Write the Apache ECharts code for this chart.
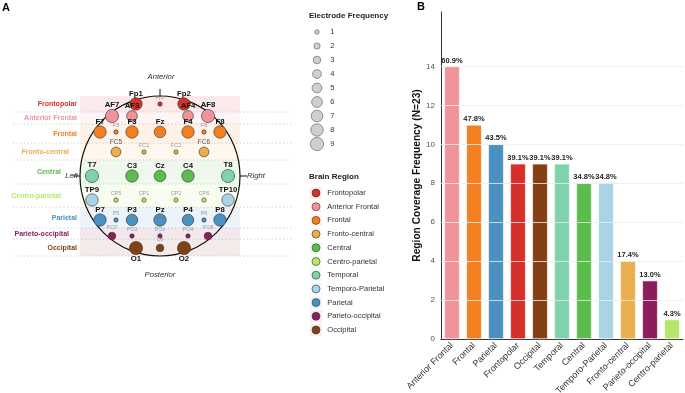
<!DOCTYPE html>
<html>
<head>
<meta charset="utf-8">
<script src="https://cdn.jsdelivr.net/npm/echarts@6/dist/echarts.min.js"></script>
<style>
html, body { margin: 0; padding: 0; background: #fff; }
#chart { width: 685px; height: 393px; }
</style>
</head>
<body>
<div id="chart"></div>
<script>
// Regions and their colours
const regionNames = ['Frontopolar', 'Anterior Frontal', 'Frontal', 'Fronto-central', 'Central', 'Centro-parietal',
    'Temporal', 'Temporo-Parietal', 'Parietal', 'Parieto-occipital', 'Occipital'];
const regionColors = ['#d7302a', '#f0949b', '#f47f22', '#ebae4e', '#5cbd4e', '#b6e76a',
    '#7fd3ac', '#a9d4e6', '#4a90c1', '#8c1c5b', '#843f15'];

// Electrodes: position on the head (radius 1), frequency, region index
const electrodeNames = ['Fp1', 'Fpz', 'Fp2',
    'AF7', 'AF3', 'AF4', 'AF8',
    'F7', 'F5', 'F3', 'Fz', 'F4', 'F6', 'F8',
    'FC5', 'FC1', 'FC2', 'FC6',
    'T7', 'C3', 'Cz', 'C4', 'T8',
    'TP9', 'CP5', 'CP1', 'CP2', 'CP6', 'TP10',
    'P7', 'P5', 'P3', 'Pz', 'P4', 'P6', 'P8',
    'PO7', 'PO3', 'POz', 'PO4', 'PO8',
    'O1', 'Oz', 'O2'];
const electrodeX = [-0.3, 0, 0.3,
    -0.6, -0.35, 0.35, 0.6,
    -0.75, -0.55, -0.35, 0, 0.35, 0.55, 0.75,
    -0.55, -0.2, 0.2, 0.55,
    -0.85, -0.35, 0, 0.35, 0.85,
    -0.85, -0.55, -0.2, 0.2, 0.55, 0.85,
    -0.75, -0.55, -0.35, 0, 0.35, 0.55, 0.75,
    -0.6, -0.35, 0, 0.35, 0.6,
    -0.3, 0, 0.3];
const electrodeY = [0.9, 0.9, 0.9,
    0.75, 0.75, 0.75, 0.75,
    0.55, 0.55, 0.55, 0.55, 0.55, 0.55, 0.55,
    0.3, 0.3, 0.3, 0.3,
    0, 0, 0, 0, 0,
    -0.3, -0.3, -0.3, -0.3, -0.3, -0.3,
    -0.55, -0.55, -0.55, -0.55, -0.55, -0.55, -0.55,
    -0.75, -0.75, -0.75, -0.75, -0.75,
    -0.9, -0.9, -0.9];
const electrodeFreq = [8, 1, 8,
    9, 6, 6, 9,
    8, 1, 8, 7, 8, 1, 8,
    5, 1, 1, 5,
    9, 8, 7, 8, 9,
    8, 1, 1, 1, 1, 8,
    8, 1, 7, 8, 7, 1, 8,
    3, 1, 1, 1, 3,
    9, 3, 9];
const electrodeRegion = [0, 0, 0,
    1, 1, 1, 1,
    2, 2, 2, 2, 2, 2, 2,
    3, 3, 3, 3,
    6, 4, 4, 4, 6,
    7, 5, 5, 5, 5, 7,
    8, 8, 8, 8, 8, 8, 8,
    9, 9, 9, 9, 9,
    10, 10, 10];

// Horizontal region bands on the head
const bandRegion = [0, 1, 2, 3, 4, 5, 8, 9, 10];
const bandTop = [1.0, 0.8, 0.65, 0.41, 0.2, -0.1, -0.39, -0.65, -0.79];
const bandBottom = [0.8, 0.65, 0.41, 0.2, -0.1, -0.39, -0.65, -0.79, -1.0];

// Size legend
const freqLevels = [1, 2, 3, 4, 5, 6, 7, 8, 9];

// Panel B
const barCategories = ['Anterior Frontal', 'Frontal', 'Parietal', 'Frontopolar', 'Occipital', 'Temporal',
    'Central', 'Temporo-Parietal', 'Fronto-central', 'Parieto-occipital', 'Centro-parietal'];
const barCounts = [14, 11, 10, 9, 9, 9, 8, 8, 4, 3, 1];
const totalStudies = 23;
const yTicks = [2, 4, 6, 8, 10, 12, 14];

const FONT = 'Liberation Sans';
// how far each band label is pulled left of the head (staggered around "Left")
const bandLabelGap = [3, 3, 3, 11, 19, 19, 3, 11, 3];

function sizeOf(f) {
    return 4.4 * Math.sqrt(f);
}

function tint(hex, a) {
    const n = parseInt(hex.slice(1), 16);
    return 'rgba(' + (n >> 16) + ',' + ((n >> 8) & 255) + ',' + (n & 255) + ',' + a + ')';
}

const electrodeData = electrodeNames.map((name, i) => {
    const f = electrodeFreq[i];
    const big = f >= 6;
    const mid = f >= 4 && f < 6;
    const below = name === 'O1' || name === 'O2';
    return {
        name: name,
        value: [electrodeX[i], electrodeY[i], f],
        symbolSize: sizeOf(f),
        itemStyle: { color: regionColors[electrodeRegion[i]] },
        label: {
            show: true,
            position: below ? 'bottom' : 'top',
            distance: big ? 0 : 1.5,
            fontSize: big ? 7.8 : (mid ? 6.5 : 5.5),
            fontWeight: big ? 'bold' : 'normal',
            color: big ? '#111' : (mid ? '#555' : '#9a9a9a'),
            formatter: name
        }
    };
});

const bandData = bandRegion.map((r, i) => [bandTop[i], bandBottom[i], r, bandLabelGap[i]]);

function renderBand(params, api) {
    const r = api.value(2);
    const p1 = api.coord([-1, api.value(0)]);
    const p2 = api.coord([1, api.value(1)]);
    return {
        type: 'group',
        children: [
            {
                type: 'rect',
                shape: { x: p1[0], y: p1[1], width: p2[0] - p1[0], height: p2[1] - p1[1] },
                style: { fill: tint(regionColors[r], 0.1) }
            },
            {
                type: 'line',
                shape: { x1: 13, y1: p2[1], x2: 293, y2: p2[1] },
                style: { stroke: '#c4c4c4', lineWidth: 0.8, lineDash: [1.2, 2.4] }
            },
            {
                type: 'text',
                style: {
                    x: p1[0] - api.value(3), y: (p1[1] + p2[1]) / 2,
                    text: regionNames[r], align: 'right', verticalAlign: 'middle',
                    fill: regionColors[r], font: 'bold 7px ' + FONT
                }
            }
        ]
    };
}

function renderHead(params, api) {
    const c = api.coord([0, 0]);
    const R = api.size([1, 1])[0];
    const italic = 'italic 7.7px ' + FONT;
    return {
        type: 'group',
        children: [
            { type: 'circle', shape: { cx: c[0], cy: c[1], r: R }, style: { fill: 'none', stroke: '#111', lineWidth: 1.2 } },
            { type: 'line', shape: { x1: c[0], y1: c[1] - R - 7, x2: c[0], y2: c[1] - R + 1 }, style: { stroke: '#111', lineWidth: 1 } },
            { type: 'line', shape: { x1: c[0] - R - 7, y1: c[1], x2: c[0] - R, y2: c[1] }, style: { stroke: '#111', lineWidth: 1 } },
            { type: 'line', shape: { x1: c[0] + R, y1: c[1], x2: c[0] + R + 7, y2: c[1] }, style: { stroke: '#111', lineWidth: 1 } },
            { type: 'text', style: { x: c[0] + 1, y: c[1] - R - 19, text: 'Anterior', align: 'center', verticalAlign: 'middle', fill: '#333', font: italic } },
            { type: 'text', style: { x: c[0], y: c[1] + R + 19, text: 'Posterior', align: 'center', verticalAlign: 'middle', fill: '#333', font: italic } },
            { type: 'text', style: { x: c[0] - R - 2, y: c[1], text: 'Left', align: 'right', verticalAlign: 'middle', fill: '#333', font: italic } },
            { type: 'text', style: { x: c[0] + R + 7, y: c[1], text: 'Right', align: 'left', verticalAlign: 'middle', fill: '#333', font: italic } }
        ]
    };
}

const chart = echarts.init(document.getElementById('chart'));

const option = {
    backgroundColor: '#fff',
    textStyle: { fontFamily: FONT },
    animation: false,
    title: [
        { text: 'A', left: 2, top: 2, padding: 0, textStyle: { fontSize: 11, fontWeight: 'bold', color: '#000', fontFamily: FONT } },
        { text: 'B', left: 417, top: 1, padding: 0, textStyle: { fontSize: 11, fontWeight: 'bold', color: '#000', fontFamily: FONT } },
        { text: 'Electrode Frequency', left: 309, top: 12, padding: 0, textStyle: { fontSize: 8, fontWeight: 'bold', color: '#222', fontFamily: FONT } },
        { text: 'Brain Region', left: 309, top: 173, padding: 0, textStyle: { fontSize: 8, fontWeight: 'bold', color: '#222', fontFamily: FONT } }
    ],
    grid: [
        { left: 80, top: 96, width: 160, height: 160, outerBoundsMode: 'none' },
        { left: 317, top: 32, width: 13, height: 112, outerBoundsMode: 'none' },
        { left: 316, top: 193, width: 11, height: 137, outerBoundsMode: 'none' },
        { left: 441, right: 2, top: 12, bottom: 54, outerBoundsMode: 'none', containLabel: false }
    ],
    xAxis: [
        { gridIndex: 0, type: 'value', min: -1, max: 1, show: false },
        { gridIndex: 1, type: 'value', min: 0, max: 1, show: false },
        { gridIndex: 2, type: 'value', min: 0, max: 1, show: false },
        {
            gridIndex: 3, type: 'category', data: barCategories,
            axisLine: { lineStyle: { color: '#333', width: 1 } },
            axisTick: { show: false },
            axisLabel: { rotate: 45, interval: 0, fontSize: 9, color: '#333', margin: 5, fontFamily: FONT }
        }
    ],
    yAxis: [
        { gridIndex: 0, type: 'value', min: -1, max: 1, show: false },
        { gridIndex: 1, type: 'value', min: 1, max: 9, inverse: true, show: false },
        { gridIndex: 2, type: 'value', min: 0, max: 10, inverse: true, show: false },
        {
            gridIndex: 3, type: 'value', min: 0, max: 16.8, interval: 2,
            name: 'Region Coverage Frequency (N=23)', nameLocation: 'middle', nameGap: 18,
            nameTextStyle: { fontSize: 10.2, fontWeight: 'bold', color: '#111', fontFamily: FONT },
            axisLine: { show: true, lineStyle: { color: '#333', width: 1 } },
            axisTick: { show: false },
            axisLabel: { fontSize: 8, color: '#555', margin: 6, fontFamily: FONT, formatter: v => (v > 14 ? '' : v) },
            splitLine: { show: false }
        }
    ],
    series: [
        {
            type: 'custom', xAxisIndex: 0, yAxisIndex: 0, z: 1, clip: false, silent: true,
            renderItem: renderBand, data: bandData
        },
        {
            type: 'custom', xAxisIndex: 0, yAxisIndex: 0, z: 2, clip: false, silent: true,
            renderItem: renderHead, data: [[0, 0]]
        },
        {
            type: 'scatter', xAxisIndex: 0, yAxisIndex: 0, z: 3,
            itemStyle: { borderColor: '#333', borderWidth: 0.6, opacity: 1 },
            labelLayout: { hideOverlap: false },
            data: electrodeData
        },
        {
            type: 'scatter', xAxisIndex: 1, yAxisIndex: 1,
            itemStyle: { color: '#cfcfcf', borderColor: '#555', borderWidth: 0.6, opacity: 1 },
            data: freqLevels.map(f => ({
                value: [0, f],
                symbolSize: sizeOf(f),
                label: {
                    show: true, position: 'right', distance: 13 - sizeOf(f) / 2,
                    formatter: String(f), fontSize: 7.5, color: '#333', fontFamily: FONT
                }
            }))
        },
        {
            type: 'scatter', xAxisIndex: 2, yAxisIndex: 2, symbol: 'rect', symbolSize: 12, z: 2,
            data: regionNames.map((n, i) => ({ value: [0, i], itemStyle: { color: tint(regionColors[i], 0.1) } }))
        },
        {
            type: 'scatter', xAxisIndex: 2, yAxisIndex: 2, symbolSize: 8, z: 3,
            itemStyle: { borderColor: '#333', borderWidth: 0.6, opacity: 1 },
            label: { show: true, position: 'right', distance: 7, fontSize: 7.5, color: '#333', fontFamily: FONT, formatter: p => p.name },
            data: regionNames.map((n, i) => ({ name: n, value: [0, i], itemStyle: { color: regionColors[i] } }))
        },
        {
            type: 'line', xAxisIndex: 3, yAxisIndex: 3, data: [], z: 1, silent: true,
            markLine: {
                silent: true, symbol: 'none', label: { show: false },
                lineStyle: { color: '#ececec', type: 'solid', width: 0.8 },
                data: yTicks.map(v => ({ yAxis: v }))
            }
        },
        {
            type: 'bar', xAxisIndex: 3, yAxisIndex: 3, z: 2, barWidth: '70%',
            data: barCounts.map((v, i) => ({
                value: v,
                itemStyle: { color: regionColors[regionNames.indexOf(barCategories[i])] }
            })),
            itemStyle: { borderColor: '#fff', borderWidth: 0.6 },
            label: {
                show: true, position: 'top', distance: 2, fontSize: 7.5, fontWeight: 'bold', color: '#222', fontFamily: FONT,
                formatter: p => (p.value / totalStudies * 100).toFixed(1) + '%'
            }
        }
    ]
};

chart.setOption(option);
</script>
</body>
</html>
